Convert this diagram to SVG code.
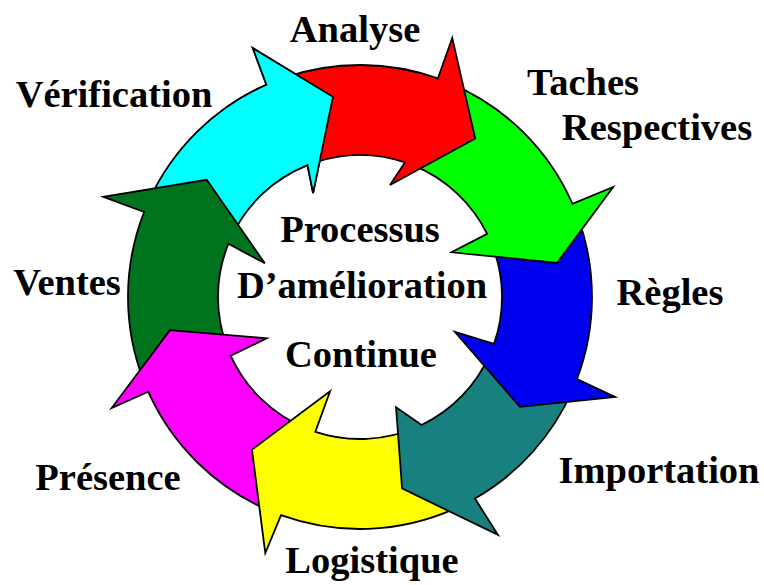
<svg xmlns="http://www.w3.org/2000/svg" xmlns:xlink="http://www.w3.org/1999/xlink" width="764" height="585" viewBox="0 0 764 585">
<style>
.arr{stroke:#000;stroke-width:1.8;stroke-linejoin:miter}
.lbl{font-family:"Liberation Serif","Times New Roman",serif;font-weight:bold;font-size:38.5px;fill:#000;text-anchor:middle}
</style>
<defs>
<path id="a-cyan" class="arr" fill="#00FFFF" d="M148.88,200.79 A232,232 0 0 1 266.39,84.72 L252.82,48.11 L332.93,96.82 L313.09,193.10 L307.50,165.07 A142,142 0 0 0 230.78,238.11 Z"/>
<clipPath id="cyanHead"><polygon points="360,297 130.6,-30.7 256.5,-89.4 360,-103"/></clipPath>
</defs>
<rect width="764" height="585" fill="#fff"/>
<g id="connectors">
<use xlink:href="#a-cyan"/>
<path id="a-dkgreen" class="arr" fill="#00731F" d="M143.54,380.52 A232,232 0 0 1 144.15,211.97 L103.22,196.87 L206.68,179.77 L264.80,263.29 L228.34,243.81 A142,142 0 0 0 227.51,348.12 Z"/>
<path id="a-magenta" class="arr" fill="#FF00FF" d="M269.73,510.72 A232,232 0 0 1 148.23,391.73 L111.72,408.06 L169.88,330.18 L266.74,338.32 L230.68,355.66 A142,142 0 0 0 304.75,427.81 Z"/>
<path id="a-yellow" class="arr" fill="#FFFF00" d="M454.35,508.93 A232,232 0 0 1 281.03,515.15 L265.30,553.05 L251.93,449.61 L330.06,391.37 L315.41,431.81 A142,142 0 0 0 417.75,426.72 Z"/>
<path id="a-teal" class="arr" fill="#198080" d="M572.44,390.24 A232,232 0 0 1 474.96,498.52 L497.91,534.93 L402.08,488.43 L396.04,407.26 L421.59,424.96 A142,142 0 0 0 490.03,354.07 Z"/>
<path id="a-blue" class="arr" fill="#0000F0" d="M577.01,214.99 A232,232 0 0 1 577.01,379.01 L615.12,396.98 L519.88,406.88 L454.79,331.88 L494.02,343.93 A142,142 0 0 0 492.83,246.80 Z"/>
<path id="a-green" class="arr" fill="#00FF00" d="M449.16,82.82 A232,232 0 0 1 572.44,203.76 L613.12,186.96 L557.08,262.96 L451.68,252.28 L487.19,233.87 A142,142 0 0 0 414.57,165.91 Z"/>
<path id="a-red" class="arr" fill="#FF0000" d="M285.62,77.25 A232,232 0 0 1 437.84,78.43 L452.26,37.92 L475.21,138.44 L390.02,184.96 L405.06,162.34 A142,142 0 0 0 314.47,162.50 Z"/>
<use xlink:href="#a-cyan" clip-path="url(#cyanHead)"/>
</g>
<g id="analyse"><text class="lbl" x="355" y="42">Analyse</text></g>
<g id="taches"><text class="lbl" x="583" y="95">Taches</text><text class="lbl" x="657" y="140">Respectives</text></g>
<g id="regles"><text class="lbl" x="670" y="305">Règles</text></g>
<g id="importation"><text class="lbl" x="659" y="483">Importation</text></g>
<g id="logistique"><text class="lbl" x="372" y="573">Logistique</text></g>
<g id="presence"><text class="lbl" x="108" y="490">Présence</text></g>
<g id="ventes"><text class="lbl" x="67" y="295">Ventes</text></g>
<g id="verification"><text class="lbl" x="114" y="107">Vérification</text></g>
<g id="centre"><text class="lbl" x="360" y="242">Processus</text><text class="lbl" x="362" y="298">D’amélioration</text><text class="lbl" x="361" y="367">Continue</text></g>
</svg>
